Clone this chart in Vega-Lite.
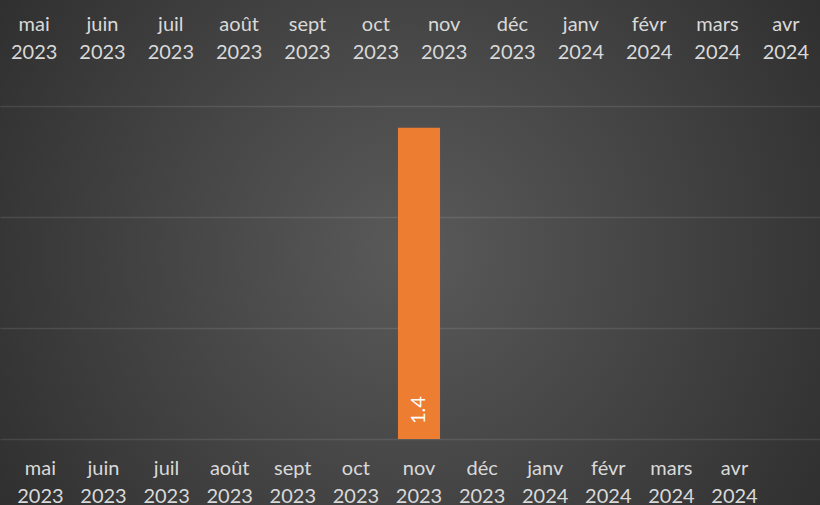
{
  "$schema": "https://vega.github.io/schema/vega-lite/v6.json",
  "width": 820,
  "height": 505,
  "autosize": {"type": "none"},
  "padding": 0,
  "background": "#333333",
  "view": {
    "stroke": null,
    "fill": {
      "gradient": "radial",
      "x1": 0.5, "y1": 0.5, "r1": 0,
      "x2": 0.5, "y2": 0.5, "r2": 0.72,
      "stops": [
        {"offset": 0, "color": "#5a5a5a"},
        {"offset": 1, "color": "#262626"}
      ]
    }
  },
  "data": {
    "values": [
      {"month": "mai 2023", "value": null},
      {"month": "juin 2023", "value": null},
      {"month": "juil 2023", "value": null},
      {"month": "août 2023", "value": null},
      {"month": "sept 2023", "value": null},
      {"month": "oct 2023", "value": null},
      {"month": "nov 2023", "value": 1.4},
      {"month": "déc 2023", "value": null},
      {"month": "janv 2024", "value": null},
      {"month": "févr 2024", "value": null},
      {"month": "mars 2024", "value": null},
      {"month": "avr 2024", "value": null}
    ]
  },
  "layer": [
    {
      "layer": [
        {
          "mark": {"type": "bar", "color": "#ED7D31"},
          "encoding": {
            "x": {
              "field": "month", "type": "nominal", "sort": null,
              "scale": {
                "type": "band", "paddingInner": 0.3333, "paddingOuter": 0.6642, "align": 0.231,
                "domain": ["mai 2023", "juin 2023", "juil 2023", "août 2023", "sept 2023", "oct 2023", "nov 2023", "déc 2023", "janv 2024", "févr 2024", "mars 2024", "avr 2024"]
              },
              "axis": {
                "orient": "bottom", "offset": -66, "labelExpr": "split(datum.label, ' ')",
                "labelAngle": 0, "ticks": false, "domain": false, "labelPadding": 19,
                "title": null, "grid": false, "labelOverlap": false
              }
            },
            "y": {
              "field": "value", "type": "quantitative",
              "scale": {"domain": [0, 1.5], "range": [439, 105.5], "nice": false, "zero": true},
              "axis": {
                "values": [0, 0.5, 1, 1.5], "labels": false, "ticks": false, "domain": false,
                "title": null, "grid": true, "gridColor": "#ffffff", "gridOpacity": 0.1, "gridWidth": 1.5
              }
            }
          }
        },
        {
          "transform": [{"filter": "datum.value != null"}],
          "mark": {"type": "text", "angle": 270, "align": "left", "baseline": "middle", "dx": 15, "color": "#ffffff", "fontSize": 20, "font": "Lato"},
          "encoding": {
            "x": {"field": "month", "type": "nominal", "sort": null},
            "y": {"datum": 0, "type": "quantitative"},
            "text": {"field": "value", "type": "quantitative", "format": ".1f"}
          }
        }
      ]
    },
    {
      "mark": {"type": "point", "opacity": 0},
      "encoding": {
        "x": {
          "field": "month", "type": "nominal", "sort": null,
          "scale": {"type": "band", "paddingInner": 0, "paddingOuter": 0},
          "axis": {
            "orient": "top", "offset": -41, "labelExpr": "split(datum.label, ' ')",
            "labelAngle": 0, "ticks": false, "domain": false, "labelPadding": 7,
            "title": null, "grid": false, "labelOverlap": false
          }
        }
      }
    }
  ],
  "resolve": {"scale": {"x": "independent"}, "axis": {"x": "independent"}},
  "config": {
    "axis": {
      "labelFont": "Lato",
      "labelFontSize": 20,
      "labelColor": "#d9d9d9",
      "labelLineHeight": 28
    }
  }
}
